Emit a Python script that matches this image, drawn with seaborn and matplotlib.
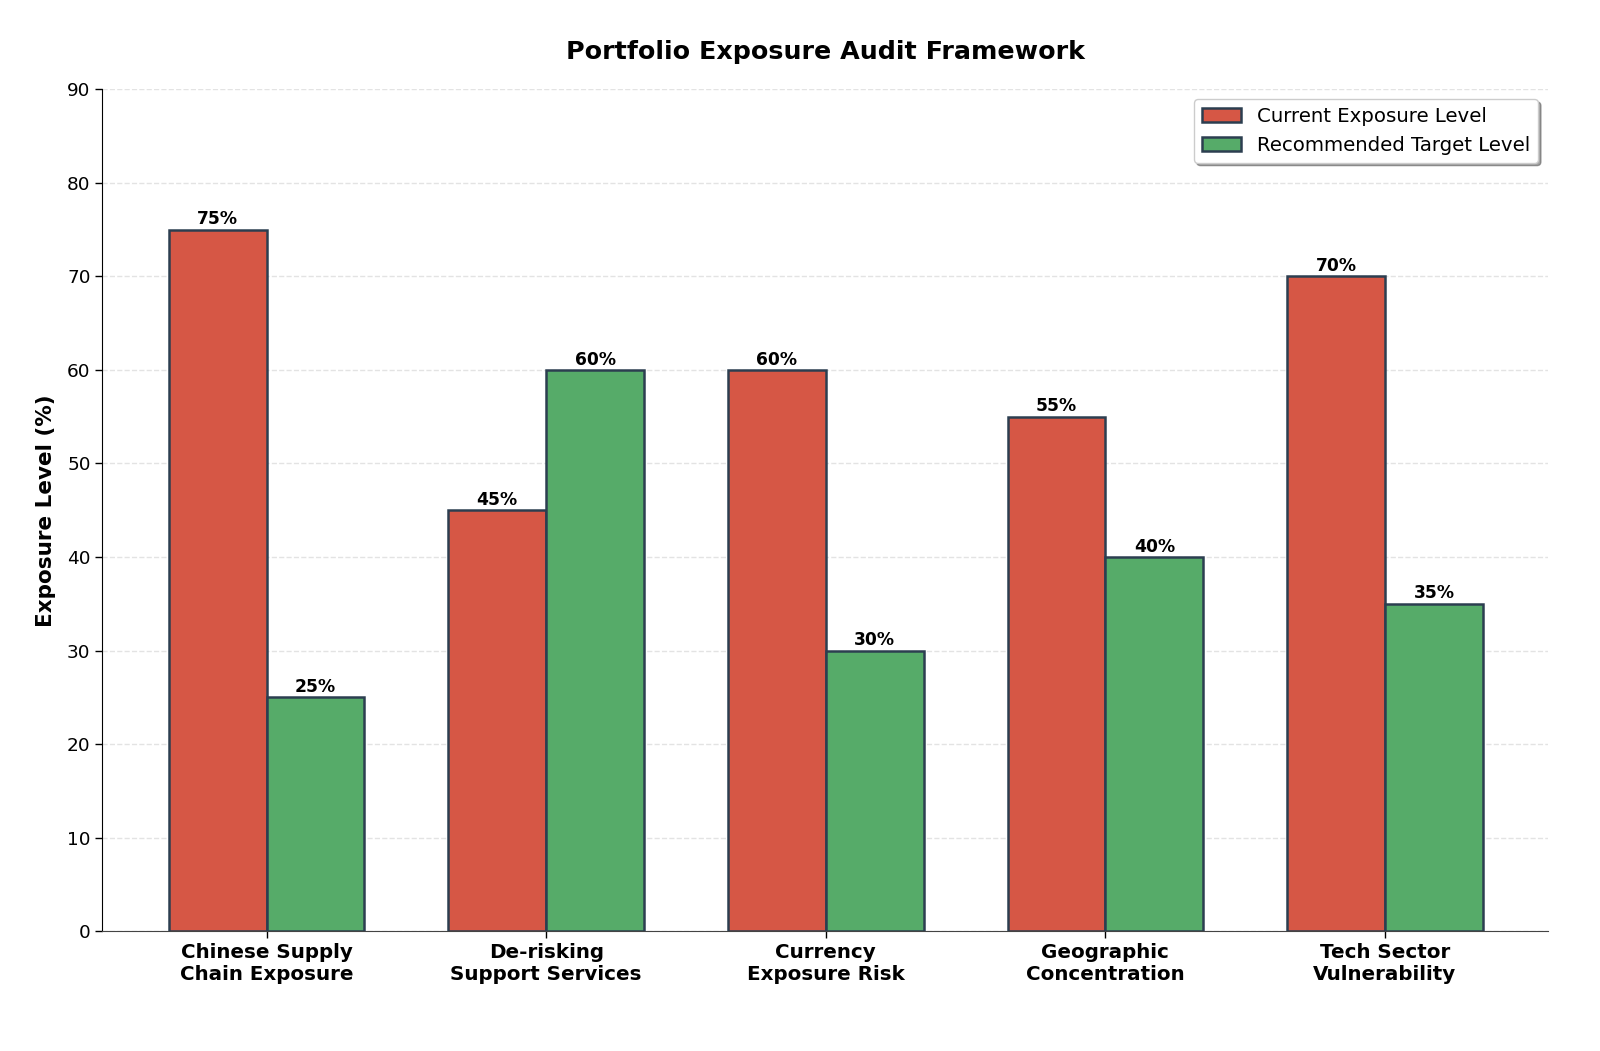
import numpy as np
import pandas as pd
import seaborn as sns
import matplotlib
matplotlib.use('Agg')
import matplotlib.pyplot as plt

categories = ['Chinese Supply\nChain Exposure', 'De-risking\nSupport Services',
              'Currency\nExposure Risk', 'Geographic\nConcentration',
              'Tech Sector\nVulnerability']
current = [75, 45, 60, 55, 70]
target = [25, 60, 30, 40, 35]
series = ['Current Exposure Level', 'Recommended Target Level']
colors = ['#d65745', '#56ab69']

df = pd.DataFrame({
    'category': categories * 2,
    'value': current + target,
    'series': [series[0]] * len(categories) + [series[1]] * len(categories),
})

sns.set_style('white')
plt.rcParams['font.family'] = ['DejaVu Sans']
plt.rcParams.update({'text.color': 'black', 'axes.labelcolor': 'black',
                     'xtick.color': 'black', 'ytick.color': 'black'})

fig, ax = plt.subplots(figsize=(16, 10.51), dpi=100)
fig.subplots_adjust(left=0.064, right=0.9675, top=0.915, bottom=0.114)

sns.barplot(data=df, x='category', y='value', hue='series', palette=colors,
            width=0.7, saturation=1, edgecolor='#2c3e50', linewidth=1.8,
            ax=ax, zorder=3)

for cont in ax.containers:
    ax.bar_label(cont, fmt='%d%%', padding=1, fontsize=12.3, fontweight='bold',
                 color='black')

ax.set_xlim(-0.587, 4.583)
ax.set_ylim(0, 90)
ax.set_yticks(range(0, 91, 10))
ax.yaxis.grid(True, linestyle='--', color='#cccccc', alpha=0.55, linewidth=1, zorder=0)
ax.set_axisbelow(True)

ax.set_xlabel('')
ax.set_ylabel('Exposure Level (%)', fontsize=15.5, fontweight='bold', labelpad=8)
ax.set_title('Portfolio Exposure Audit Framework', fontsize=18.3, fontweight='bold', pad=22)

ax.tick_params(axis='y', labelsize=13.3, length=5, width=1, left=True)
ax.tick_params(axis='x', labelsize=14.3, length=5, width=1, bottom=True)
for lbl in ax.get_xticklabels():
    lbl.set_fontweight('bold')

for s in ['top', 'right']:
    ax.spines[s].set_visible(False)
ax.spines['left'].set_color('black')
ax.spines['bottom'].set_color('#444444')

handles, labels = ax.get_legend_handles_labels()
ax.legend(handles, labels, loc='upper right', fontsize=14.2, frameon=True,
          shadow=True, fancybox=True, framealpha=1)

fig.savefig('out.png', dpi=100)
